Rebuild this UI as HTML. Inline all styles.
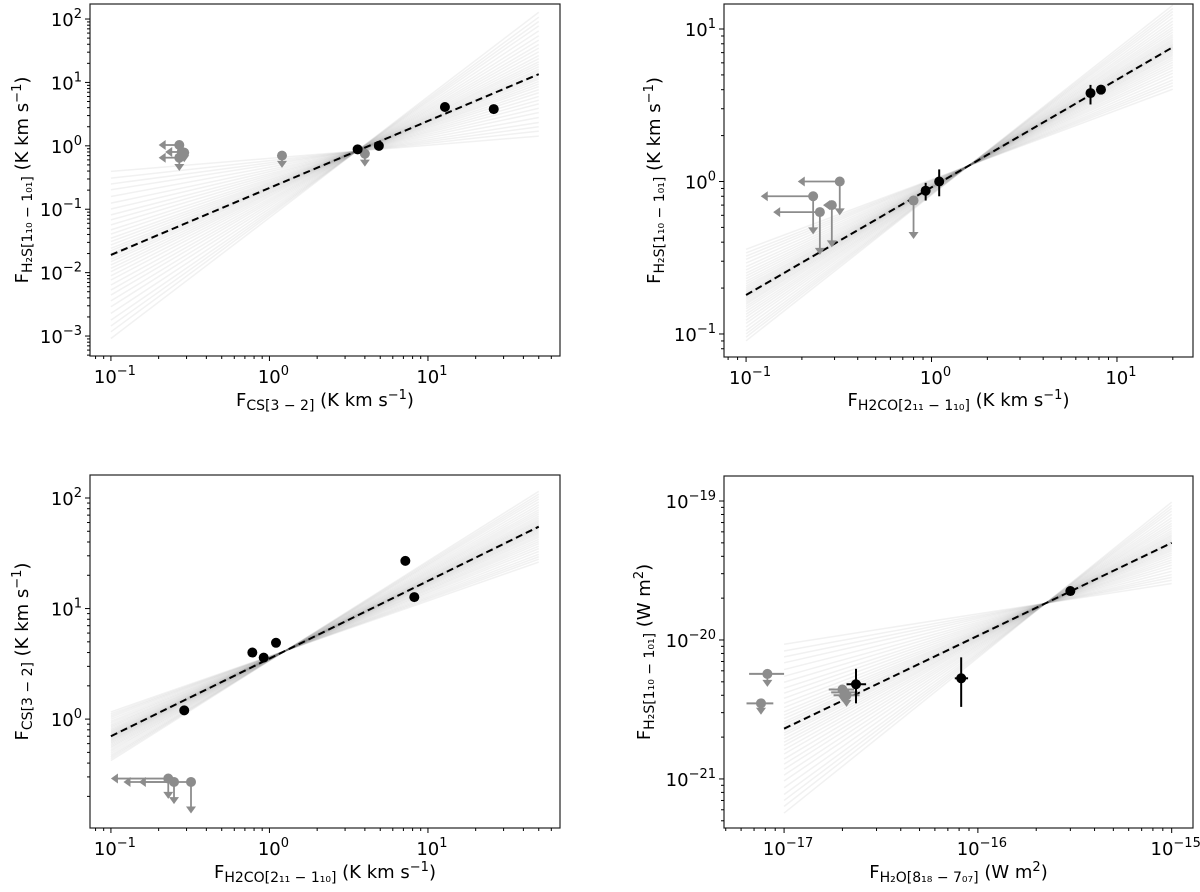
<!DOCTYPE html>
<html><head><meta charset="utf-8"><style>
html,body{margin:0;padding:0;background:#fff;}
svg{display:block;font-family:"DejaVu Sans","Liberation Sans",sans-serif;}
</style></head><body>
<svg id="fig" width="1200" height="892" viewBox="0 0 1200 892" xmlns="http://www.w3.org/2000/svg"></svg>
<script>
// ---- Panel data ----
const p1Detx = [3.6, 4.9, 12.8, 26];
const p1Dety = [0.88, 1.0, 4.1, 3.8];
const p1Ulx = [0.27, 0.28, 0.27, 0.29, 1.2, 4.0];
const p1Uly = [1.03, 0.8, 0.65, 0.78, 0.7, 0.75];
const p1UlLeft = [0.2, 0.22, 0.2, 0, 0, 0];
const p1UlDown = [0, 0.6, 0.4, 0.55, 0.45, 0.47];
const p1Fit = [0.1, 0.019, 50, 13.5];

const p2Detx = [0.93, 1.1, 7.2, 8.2];
const p2Dety = [0.87, 1.0, 3.8, 4.0];
const p2DetYlo = [0.75, 0.8, 3.2, 4.0];
const p2DetYhi = [0.98, 1.2, 4.3, 4.0];
const p2Ulx = [0.32, 0.23, 0.25, 0.29, 0.8];
const p2Uly = [1.0, 0.8, 0.63, 0.7, 0.75];
const p2UlLeft = [0.19, 0.12, 0.14, 0.26, 0];
const p2UlDown = [0.6, 0.45, 0.33, 0.37, 0.42];
const p2Fit = [0.1, 0.18, 20, 7.6];

const p3Detx = [0.29, 0.78, 0.92, 1.1, 7.2, 8.2];
const p3Dety = [1.2, 4.0, 3.6, 4.9, 27, 12.7];
const p3Ulx = [0.23, 0.25, 0.32];
const p3Uly = [0.29, 0.27, 0.27];
const p3UlLeft = [0.1, 0.12, 0.15];
const p3UlDown = [0.19, 0.17, 0.14];
const p3Fit = [0.1, 0.7, 50, 55];

const p4Detx = [2.35e-17, 8.2e-17, 3.0e-16];
const p4Dety = [4.8e-21, 5.3e-21, 2.25e-20];
const p4DetXlo = [2.1e-17, 7.6e-17, 3.0e-16];
const p4DetXhi = [2.65e-17, 8.9e-17, 3.0e-16];
const p4DetYlo = [3.5e-21, 3.3e-21, 2.25e-20];
const p4DetYhi = [6.2e-21, 7.5e-21, 2.25e-20];
const p4Ulx = [8.2e-18, 7.6e-18, 2.0e-17, 2.05e-17, 2.1e-17];
const p4Uly = [5.7e-21, 3.5e-21, 4.4e-21, 4.2e-21, 4.0e-21];
const p4UlXlo = [6.6e-18, 6.4e-18, 1.7e-17, 1.75e-17, 1.8e-17];
const p4UlXhi = [1.0e-17, 8.8e-18, 2.3e-17, 2.4e-17, 2.45e-17];
const p4UlDown = [4.6e-21, 2.9e-21, 3.6e-21, 3.5e-21, 3.3e-21];
const p4Fit = [1e-17, 2.3e-21, 1e-15, 5e-20];

// normalized slope offsets of the posterior sample lines
const sampleOffsets = [-1,-0.92,-0.85,-0.78,-0.7,-0.62,-0.55,-0.48,-0.42,-0.36,-0.3,-0.25,-0.2,-0.16,-0.12,-0.08,-0.05,-0.02,0,0.02,0.05,0.08,0.12,0.16,0.2,0.25,0.3,0.36,0.42,0.48,0.55,0.62,0.7,0.78,0.85,0.92,1];

const NS = "http://www.w3.org/2000/svg";
const svg = document.getElementById('fig');
function mk(tag, attrs, parent){
  const e = document.createElementNS(NS, tag);
  for (const k in attrs) e.setAttribute(k, attrs[k]);
  (parent||svg).appendChild(e);
  return e;
}

function panel(cfg){
  const g = mk('g', {});
  
  
  const L=cfg.box[0], R=cfg.box[1], T=cfg.box[2], B=cfg.box[3];
  const X = v => L + (Math.log10(v) - cfg.xd[0])/(cfg.xd[1]-cfg.xd[0])*(R-L);
  const Y = v => B - (Math.log10(v) - cfg.yd[0])/(cfg.yd[1]-cfg.yd[0])*(B-T);
  const clipId = cfg.name+'-clip';
  const cp = mk('clipPath', {id: clipId}, g);
  mk('rect', {x:L, y:T, width:R-L, height:B-T}, cp);
  const plot = mk('g', {'clip-path':'url(#'+clipId+')'}, g);
  
  

  const f = cfg.fit;
  const lx0 = Math.log10(f[0]), ly0 = Math.log10(f[1]), lx1 = Math.log10(f[2]), ly1 = Math.log10(f[3]);
  const slope = (ly1-ly0)/(lx1-lx0);
  const px = cfg.pivot, py = ly0 + slope*(px-lx0);
  sampleOffsets.forEach(o => {
    const s = slope + o*cfg.spread;
    const a = py + s*(lx0-px), b = py + s*(lx1-px);
    const ln = mk('line', {x1:X(f[0]), y1:Y(Math.pow(10,a)), x2:X(f[2]), y2:Y(Math.pow(10,b)), stroke:'#666', 'stroke-opacity':0.09, 'stroke-width':1.5}, plot);
    
    
  });
  const fl = mk('line', {x1:X(f[0]), y1:Y(f[1]), x2:X(f[2]), y2:Y(f[3]), stroke:'#000', 'stroke-width':2, 'stroke-dasharray':'7,4'}, plot);
  
  

  const gray = '#8c8c8c';
  function arrowDown(x, y1, y2){
    mk('line', {x1:x, y1:y1, x2:x, y2:y2-6, stroke:gray, 'stroke-width':1.8}, plot);
    const a = mk('polygon', {points:`${x-5},${y2-7} ${x+5},${y2-7} ${x},${y2}`, fill:gray}, plot);
    
    
  }
  function arrowLeft(y, x1, x2){
    mk('line', {x1:x1, y1:y, x2:x2+6, y2:y, stroke:gray, 'stroke-width':1.8}, plot);
    const a = mk('polygon', {points:`${x2+7},${y-5} ${x2+7},${y+5} ${x2},${y}`, fill:gray}, plot);
    
    
  }
  cfg.ulx.forEach((xv,i) => {
    const cx = X(xv), cy = Y(cfg.uly[i]);
    if (cfg.ulXlo) mk('line', {x1:X(cfg.ulXlo[i]), y1:cy, x2:X(cfg.ulXhi[i]), y2:cy, stroke:gray, 'stroke-width':2}, plot);
    if (cfg.ulLeft && cfg.ulLeft[i]) arrowLeft(cy, cx, X(cfg.ulLeft[i]));
    if (cfg.ulDown[i]) arrowDown(cx, cy, Y(cfg.ulDown[i]));
    const c = mk('circle', {cx:cx, cy:cy, r:5, fill:gray}, plot);
    
    
  });
  cfg.detx.forEach((xv,i) => {
    const cx = X(xv), cy = Y(cfg.dety[i]);
    if (cfg.yLo) mk('line', {x1:cx, y1:Y(cfg.yLo[i]), x2:cx, y2:Y(cfg.yHi[i]), stroke:'#000', 'stroke-width':2}, plot);
    if (cfg.xLo) mk('line', {x1:X(cfg.xLo[i]), y1:cy, x2:X(cfg.xHi[i]), y2:cy, stroke:'#000', 'stroke-width':2}, plot);
    const c = mk('circle', {cx:cx, cy:cy, r:5, fill:'#000'}, plot);
    
    
  });

  const fr = mk('rect', {x:L, y:T, width:R-L, height:B-T, fill:'none', stroke:'#222', 'stroke-width':1.2}, g);
  
  

  const xa = mk('g', {}, g);
  
  
  for (let d = Math.floor(cfg.xd[0]); d <= Math.ceil(cfg.xd[1]); d++){
    for (let m = 1; m < 10; m++){
      const lv = d + Math.log10(m);
      if (lv < cfg.xd[0] || lv > cfg.xd[1]) continue;
      const x = L + (lv-cfg.xd[0])/(cfg.xd[1]-cfg.xd[0])*(R-L);
      mk('line', {x1:x, y1:B, x2:x, y2:B+(m===1?5:3), stroke:'#000', 'stroke-width':1}, xa);
      if (m===1){
        const t = mk('text', {x:x+4, y:B+27, 'font-size':18, 'text-anchor':'middle'}, xa);
        
        
        t.innerHTML = `10<tspan dy="-8" font-size="13">${d<0?'\u2212'+(-d):d}</tspan>`;
      }
    }
  }
  const ya = mk('g', {}, g);
  
  
  for (let d = Math.floor(cfg.yd[0]); d <= Math.ceil(cfg.yd[1]); d++){
    for (let m = 1; m < 10; m++){
      const lv = d + Math.log10(m);
      if (lv < cfg.yd[0] || lv > cfg.yd[1]) continue;
      const y = B - (lv-cfg.yd[0])/(cfg.yd[1]-cfg.yd[0])*(B-T);
      mk('line', {x1:L, y1:y, x2:L-(m===1?5:3), y2:y, stroke:'#000', 'stroke-width':1}, ya);
      if (m===1){
        const t = mk('text', {x:L-8, y:y+7, 'font-size':18, 'text-anchor':'end'}, ya);
        
        
        t.innerHTML = `10<tspan dy="-8" font-size="13">${d<0?'\u2212'+(-d):d}</tspan>`;
      }
    }
  }
  const xt = mk('text', {x:(L+R)/2, y:cfg.xTitleY, 'font-size':18, 'text-anchor':'middle'}, g);
  
  
  xt.innerHTML = cfg.xTitle;
  const yt = mk('text', {x:0, y:0, 'font-size':18, 'text-anchor':'middle', transform:`translate(${cfg.yTitleX},${(T+B)/2}) rotate(-90)`}, g);
  
  
  yt.innerHTML = cfg.yTitle;
}

const unitK = '<tspan dy="-4"> (K km s</tspan><tspan dy="-7" font-size="13">\u22121</tspan><tspan dy="7">)</tspan>';
const h2s = 'F<tspan dy="4" font-size="14">H\u2082S[1\u2081\u2080 \u2212 1\u2080\u2081]</tspan>';
const cs = 'F<tspan dy="4" font-size="14">CS[3 \u2212 2]</tspan>';
const h2co = 'F<tspan dy="4" font-size="14">H2CO[2\u2081\u2081 \u2212 1\u2081\u2080]</tspan>';
const h2o = 'F<tspan dy="4" font-size="14">H\u2082O[8\u2081\u2088 \u2212 7\u2080\u2087]</tspan>';
const unitW = '<tspan dy="-4"> (W m</tspan><tspan dy="-7" font-size="13">2</tspan><tspan dy="7">)</tspan>';

panel({name:'panel-h2s-vs-cs', box:[90,560,4,356], xd:[-1.132,1.833], yd:[-3.315,2.237],
  detx:p1Detx, dety:p1Dety, ulx:p1Ulx, uly:p1Uly, ulLeft:p1UlLeft, ulDown:p1UlDown,
  fit:p1Fit, pivot:0.55, spread:0.85, xTitle:cs+unitK, yTitle:h2s+unitK, xTitleY:406, yTitleX:28});
panel({name:'panel-h2s-vs-h2co', box:[724,1193,4,357], xd:[-1.119,1.41], yd:[-1.151,1.164],
  detx:p2Detx, dety:p2Dety, yLo:p2DetYlo, yHi:p2DetYhi, ulx:p2Ulx, uly:p2Uly, ulLeft:p2UlLeft, ulDown:p2UlDown,
  fit:p2Fit, pivot:0.2, spread:0.25, xTitle:h2co+unitK, yTitle:h2s+unitK, xTitleY:406, yTitleX:660});
panel({name:'panel-cs-vs-h2co', box:[90,560,475,828], xd:[-1.132,1.833], yd:[-0.985,2.208],
  detx:p3Detx, dety:p3Dety, ulx:p3Ulx, uly:p3Uly, ulLeft:p3UlLeft, ulDown:p3UlDown,
  fit:p3Fit, pivot:0.1, spread:0.2, xTitle:h2co+unitK, yTitle:cs+unitK, xTitleY:878, yTitleX:28});
panel({name:'panel-h2s-vs-h2o', box:[724,1193,476,828], xd:[-17.31,-14.89], yd:[-21.353,-18.82],
  detx:p4Detx, dety:p4Dety, xLo:p4DetXlo, xHi:p4DetXhi, yLo:p4DetYlo, yHi:p4DetYhi,
  ulx:p4Ulx, uly:p4Uly, ulXlo:p4UlXlo, ulXhi:p4UlXhi, ulDown:p4UlDown,
  fit:p4Fit, pivot:-15.65, spread:0.45, xTitle:h2o+unitW, yTitle:h2s+unitW, xTitleY:878, yTitleX:650});
</script>
</body></html>
